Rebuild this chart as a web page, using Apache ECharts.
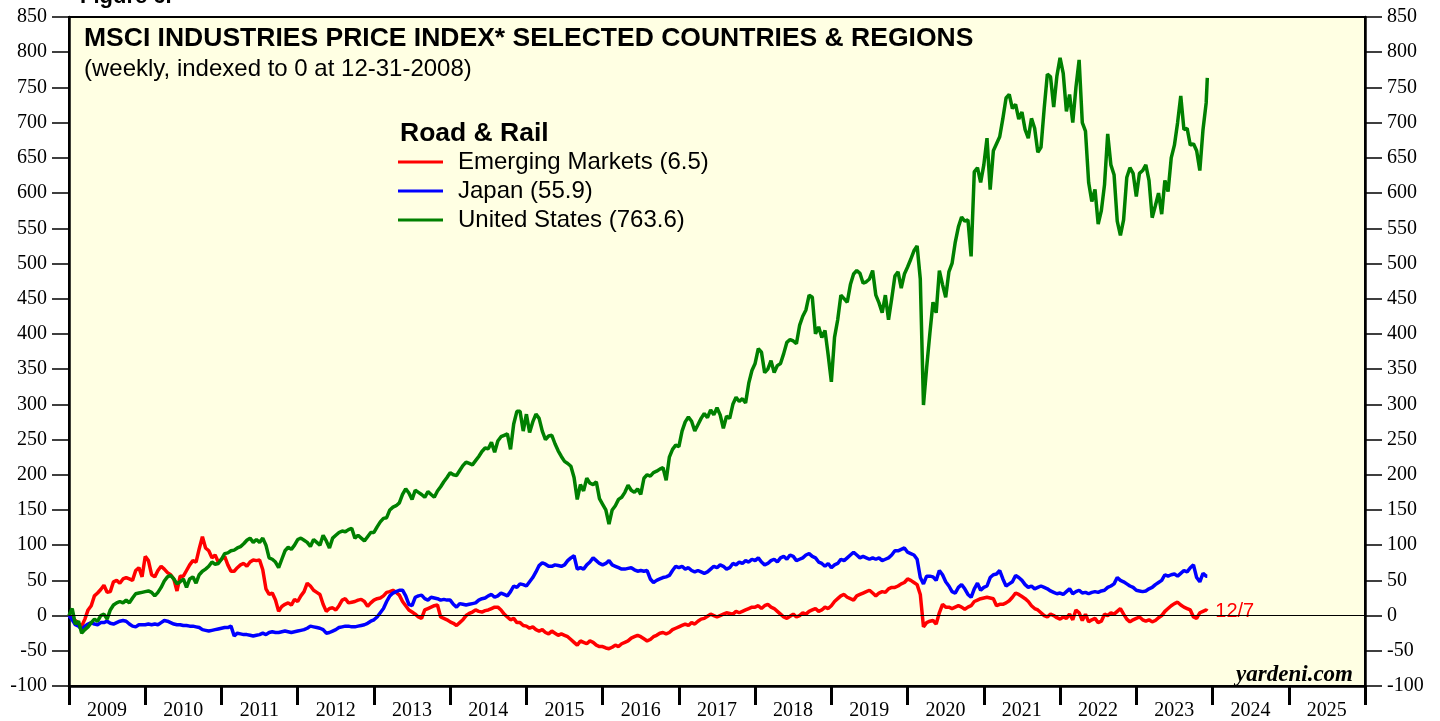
<!DOCTYPE html>
<html>
<head>
<meta charset="utf-8">
<script src="https://cdn.jsdelivr.net/npm/echarts@6/dist/echarts.min.js"></script>
<style>
html, body { margin: 0; padding: 0; background: #fff; }
#main { width: 1440px; height: 721px; }
</style>
</head>
<body>
<div id="main"></div>
<script>
// semi-monthly readings (1st and 15th of each month), 2009 -> 12/7/2023
var yearLabels = ['2009', '2010', '2011', '2012', '2013', '2014', '2015', '2016', '2017',
	'2018', '2019', '2020', '2021', '2022', '2023', '2024', '2025'];

var emValues = [
	0, -3, -7, -12, -15, -5, 8, 14, 28, 32, 37, 43, 33, 34, 48, 50, 46, 52, 54, 52, 50, 64, 68, 55, // 2009
	84, 78, 58, 55, 64, 70, 66, 61, 58, 52, 35, 56, 56, 64, 72, 78, 76, 95, 112, 96, 92, 82, 86, 76, // 2010
	80, 84, 72, 63, 63, 68, 72, 74, 70, 76, 79, 78, 79, 65, 38, 30, 32, 22, 6, 13, 16, 18, 15, 23, // 2011
	20, 28, 34, 46, 42, 36, 33, 30, 16, 6, 10, 11, 8, 14, 22, 24, 18, 19, 20, 22, 23, 20, 13, 18, // 2012
	22, 24, 25, 28, 33, 34, 36, 33, 29, 20, 14, 8, 5, 2, -2, -4, 8, 10, 12, 14, 15, -2, -4, -6, // 2013
	-9, -11, -14, -10, -6, 0, 3, 5, 8, 6, 5, 7, 8, 10, 12, 12, 8, 2, -2, -6, -4, -10, -10, -14, // 2014
	-15, -18, -16, -20, -22, -20, -24, -26, -22, -25, -28, -26, -28, -30, -34, -38, -42, -36, -38, -40, -36, -38, -42, -44, // 2015
	-44, -46, -47, -45, -42, -44, -40, -38, -36, -32, -30, -28, -30, -33, -36, -34, -30, -28, -25, -24, -26, -24, -20, -18, // 2016
	-16, -14, -12, -14, -10, -12, -8, -5, -4, -1, 2, 0, -2, 0, 2, 4, 3, 2, 6, 4, 6, 8, 10, 12, // 2017
	12, 14, 10, 14, 16, 12, 10, 6, 2, -2, -4, -1, 2, -2, 0, 4, 2, 6, 8, 10, 6, 8, 12, 10, // 2018
	14, 20, 24, 28, 30, 26, 24, 22, 28, 30, 32, 34, 36, 32, 28, 32, 34, 33, 38, 40, 40, 42, 45, 47, // 2019
	52, 50, 47, 44, 30, -16, -10, -8, -7, -12, 4, 16, 12, 12, 10, 12, 14, 12, 9, 12, 14, 20, 22, 24, // 2020
	25, 26, 25, 24, 14, 16, 16, 18, 21, 26, 32, 30, 27, 24, 20, 14, 10, 8, 4, 0, -2, 2, 0, -3, // 2021
	-5, -2, -4, 2, -6, 8, 4, -7, 2, -9, -6, -4, -10, -8, 2, 0, 4, 2, 6, 10, 2, -5, -9, -6, // 2022
	-4, -2, -6, -8, -6, -9, -7, -3, 0, 6, 10, 14, 17, 19, 15, 12, 10, 8, -2, -4, 4, 6, 8, 6.5 // 2023
];

var japanValues = [
	0, -6, -13, -15, -20, -15, -12, -10, -12, -13, -10, -10, -8, -11, -12, -10, -8, -7, -8, -12, -15, -16, -13, -13, // 2009
	-13, -12, -13, -12, -13, -10, -7, -8, -10, -12, -13, -13, -14, -14, -15, -15, -16, -17, -20, -21, -22, -21, -20, -19, // 2010
	-18, -17, -17, -15, -29, -25, -26, -27, -27, -28, -29, -28, -27, -25, -27, -24, -23, -24, -24, -23, -22, -23, -24, -23, // 2011
	-22, -21, -20, -18, -15, -16, -17, -18, -20, -25, -24, -22, -20, -17, -16, -15, -15, -16, -16, -15, -14, -13, -11, -8, // 2012
	-6, -2, 4, 10, 20, 28, 32, 34, 36, 36, 28, 16, 14, 26, 28, 29, 24, 22, 26, 25, 24, 22, 23, 22, // 2013
	22, 16, 12, 17, 16, 15, 16, 17, 18, 22, 24, 25, 28, 30, 26, 28, 32, 30, 28, 34, 42, 40, 45, 44, // 2014
	42, 48, 54, 62, 71, 75, 73, 70, 70, 72, 71, 70, 72, 78, 82, 85, 66, 68, 66, 72, 76, 82, 78, 74, // 2015
	72, 74, 78, 72, 70, 68, 66, 66, 67, 68, 65, 63, 64, 63, 64, 52, 47, 50, 52, 54, 55, 57, 64, 70, // 2016
	68, 70, 66, 68, 64, 62, 64, 62, 60, 62, 66, 70, 68, 72, 70, 66, 68, 74, 72, 76, 74, 78, 76, 80, // 2017
	78, 82, 76, 72, 74, 78, 80, 76, 82, 84, 80, 86, 84, 78, 80, 82, 86, 88, 84, 82, 76, 74, 70, 74, // 2018
	68, 72, 74, 80, 78, 82, 86, 90, 86, 82, 84, 82, 80, 82, 80, 82, 78, 80, 82, 86, 92, 92, 94, 96, // 2019
	90, 88, 86, 80, 54, 45, 56, 56, 55, 50, 64, 58, 48, 42, 34, 32, 40, 44, 38, 30, 26, 38, 46, 36, // 2020
	40, 42, 54, 58, 59, 64, 52, 42, 45, 48, 57, 54, 50, 44, 40, 42, 38, 40, 42, 40, 38, 35, 33, 31, // 2021
	32, 30, 34, 38, 31, 34, 36, 32, 33, 31, 33, 34, 33, 35, 36, 40, 42, 45, 54, 50, 48, 45, 42, 40, // 2022
	36, 35, 34, 35, 38, 40, 44, 47, 50, 58, 56, 58, 59, 56, 60, 64, 62, 68, 72, 54, 48, 60, 56, 55.9 // 2023
];

var usValues = [
	0, 10, -12, -8, -25, -20, -16, -10, -5, -8, 0, 2, -5, 8, 15, 18, 20, 18, 22, 18, 25, 31, 32, 33, // 2009
	34, 35, 33, 28, 33, 40, 49, 55, 57, 52, 45, 48, 52, 40, 52, 55, 46, 58, 63, 66, 70, 76, 73, 74, // 2010
	80, 88, 89, 92, 93, 96, 98, 102, 107, 110, 104, 108, 104, 110, 100, 82, 80, 76, 68, 80, 92, 97, 94, 100, // 2011
	108, 110, 107, 104, 98, 108, 104, 100, 114, 106, 96, 110, 114, 118, 120, 119, 122, 124, 110, 114, 110, 106, 112, 118, // 2012
	118, 126, 133, 138, 139, 150, 154, 156, 160, 172, 180, 174, 165, 178, 175, 172, 168, 176, 172, 168, 177, 183, 190, 196, // 2013
	203, 200, 199, 206, 213, 218, 216, 214, 220, 226, 233, 238, 237, 246, 232, 248, 254, 256, 258, 236, 272, 290, 290, 262, // 2014
	286, 260, 275, 286, 280, 262, 250, 255, 256, 244, 234, 226, 219, 216, 212, 196, 165, 186, 177, 195, 188, 186, 190, 166, // 2015
	158, 150, 130, 150, 156, 165, 168, 175, 185, 178, 175, 180, 172, 195, 200, 198, 203, 205, 208, 210, 192, 225, 236, 242, // 2016
	240, 262, 275, 282, 276, 262, 271, 280, 287, 281, 292, 285, 295, 285, 266, 283, 280, 300, 310, 304, 308, 302, 330, 348, // 2017
	358, 379, 374, 345, 350, 362, 345, 355, 358, 372, 388, 392, 390, 386, 412, 425, 434, 455, 452, 400, 410, 395, 405, 370, // 2018
	332, 395, 420, 455, 450, 445, 470, 485, 490, 486, 472, 474, 478, 490, 455, 444, 430, 455, 420, 450, 482, 488, 465, 485, // 2019
	495, 506, 518, 525, 478, 299, 352, 400, 445, 430, 490, 470, 452, 488, 500, 530, 552, 566, 560, 562, 510, 630, 636, 615, // 2020
	640, 678, 605, 660, 670, 680, 706, 735, 740, 720, 726, 705, 715, 690, 678, 706, 692, 658, 665, 720, 769, 765, 722, 766, // 2021
	792, 770, 716, 740, 700, 750, 789, 700, 688, 615, 588, 605, 556, 575, 612, 684, 640, 626, 560, 540, 562, 622, 636, 628, // 2022
	595, 628, 632, 640, 618, 565, 582, 600, 570, 618, 602, 650, 668, 700, 738, 690, 692, 668, 670, 660, 632, 690, 728, 763.6 // 2023
];

// x position in years: 1st / 15th of month, last reading is 12/7/2023
function toPairs(values) {
	var out = [];
	for (var i = 0; i < values.length; i++) {
		var t = 2009 + i / 24;
		if (i == values.length - 1) {
			t = 2023 + 340 / 365;
		}
		out.push([t, values[i]]);
	}
	return out;
}

var myChart = echarts.init(document.getElementById('main'));

var axisFont = 'Liberation Serif';
var textFont = 'Liberation Sans';

var option = {
	animation : false,
	backgroundColor : '#ffffff',
	title : {
		text : 'MSCI INDUSTRIES PRICE INDEX* SELECTED COUNTRIES & REGIONS',
		subtext : '(weekly, indexed to 0 at 12-31-2008)',
		left : 79,
		top : 20,
		itemGap : 5,
		textStyle : {
			fontFamily : textFont,
			fontSize : 26.5,
			fontWeight : 'bold',
			color : '#000'
		},
		subtextStyle : {
			fontFamily : textFont,
			fontSize : 24,
			color : '#000'
		}
	},
	legend : {
		orient : 'vertical',
		left : 398,
		top : 150,
		padding : 0,
		itemWidth : 45,
		itemHeight : 3,
		itemGap : 5,
		icon : 'rect',
		textStyle : {
			fontFamily : textFont,
			fontSize : 24,
			color : '#000',
			padding : [ 0, 0, 0, 10 ]
		},
		data : [ 'Emerging Markets (6.5)', 'Japan (55.9)', 'United States (763.6)' ]
	},
	grid : {
		left : 69,
		right : 75,
		top : 17,
		bottom : 32,
		show : true,
		backgroundColor : '#FFFFE3',
		borderColor : '#000',
		borderWidth : 2
	},
	xAxis : {
		type : 'value',
		min : 2009,
		max : 2026,
		interval : 1,
		axisLine : {
			onZero : false,
			lineStyle : { color : '#000', width : 2.5 }
		},
		axisTick : {
			length : 19,
			lineStyle : { color : '#000', width : 3 }
		},
		axisLabel : {
			margin : 15,
			fontFamily : axisFont,
			fontSize : 20,
			color : '#000',
			padding : [ 0, 0, 0, 76 ],
			formatter : function(v) {
				return v < 2026 ? String(v) : '';
			}
		},
		splitLine : { show : false }
	},
	yAxis : [ {
		type : 'value',
		position : 'left',
		min : -100,
		max : 850,
		interval : 50,
		axisLine : {
			show : true,
			lineStyle : { color : '#000', width : 2.5 }
		},
		axisTick : {
			show : true,
			length : 17,
			lineStyle : { color : '#000', width : 1.5 }
		},
		axisLabel : {
			margin : 22,
			fontFamily : axisFont,
			fontSize : 20,
			color : '#000'
		},
		splitLine : { show : false }
	}, {
		type : 'value',
		position : 'right',
		min : -100,
		max : 850,
		interval : 50,
		axisLine : {
			show : true,
			lineStyle : { color : '#000', width : 2.5 }
		},
		axisTick : {
			show : true,
			length : 17,
			lineStyle : { color : '#000', width : 1.5 }
		},
		axisLabel : {
			margin : 22,
			fontFamily : axisFont,
			fontSize : 20,
			color : '#000'
		},
		splitLine : { show : false }
	} ],
	graphic : [ {
		type : 'text',
		left : 80,
		top : -14,
		style : {
			text : 'Figure 6.',
			font : 'bold 22px Liberation Sans',
			fill : '#000'
		}
	}, {
		type : 'text',
		left : 400,
		top : 120,
		style : {
			text : 'Road & Rail',
			font : 'bold 26.5px Liberation Sans',
			fill : '#000'
		}
	}, {
		type : 'text',
		right : 87,
		top : 664,
		style : {
			text : 'yardeni.com',
			font : 'italic bold 23px Liberation Serif',
			fill : '#000'
		}
	} ],
	series : [ {
		name : 'Emerging Markets (6.5)',
		type : 'line',
		showSymbol : false,
		color : '#FF0000',
		lineStyle : { width : 3.5, color : '#FF0000' },
		data : toPairs(emValues),
		endLabel : {
			show : true,
			formatter : '12/7',
			distance : 8,
			color : '#FF0000',
			fontFamily : textFont,
			fontSize : 20
		},
		markLine : {
			silent : true,
			symbol : 'none',
			label : { show : false },
			lineStyle : { color : '#000', width : 1, type : 'solid' },
			data : [ { yAxis : 0 } ]
		}
	}, {
		name : 'Japan (55.9)',
		type : 'line',
		showSymbol : false,
		color : '#0000FF',
		lineStyle : { width : 3.5, color : '#0000FF' },
		data : toPairs(japanValues)
	}, {
		name : 'United States (763.6)',
		type : 'line',
		showSymbol : false,
		color : '#008000',
		lineStyle : { width : 3.5, color : '#008000' },
		data : toPairs(usValues)
	} ]
};

myChart.setOption(option);
</script>
</body>
</html>
